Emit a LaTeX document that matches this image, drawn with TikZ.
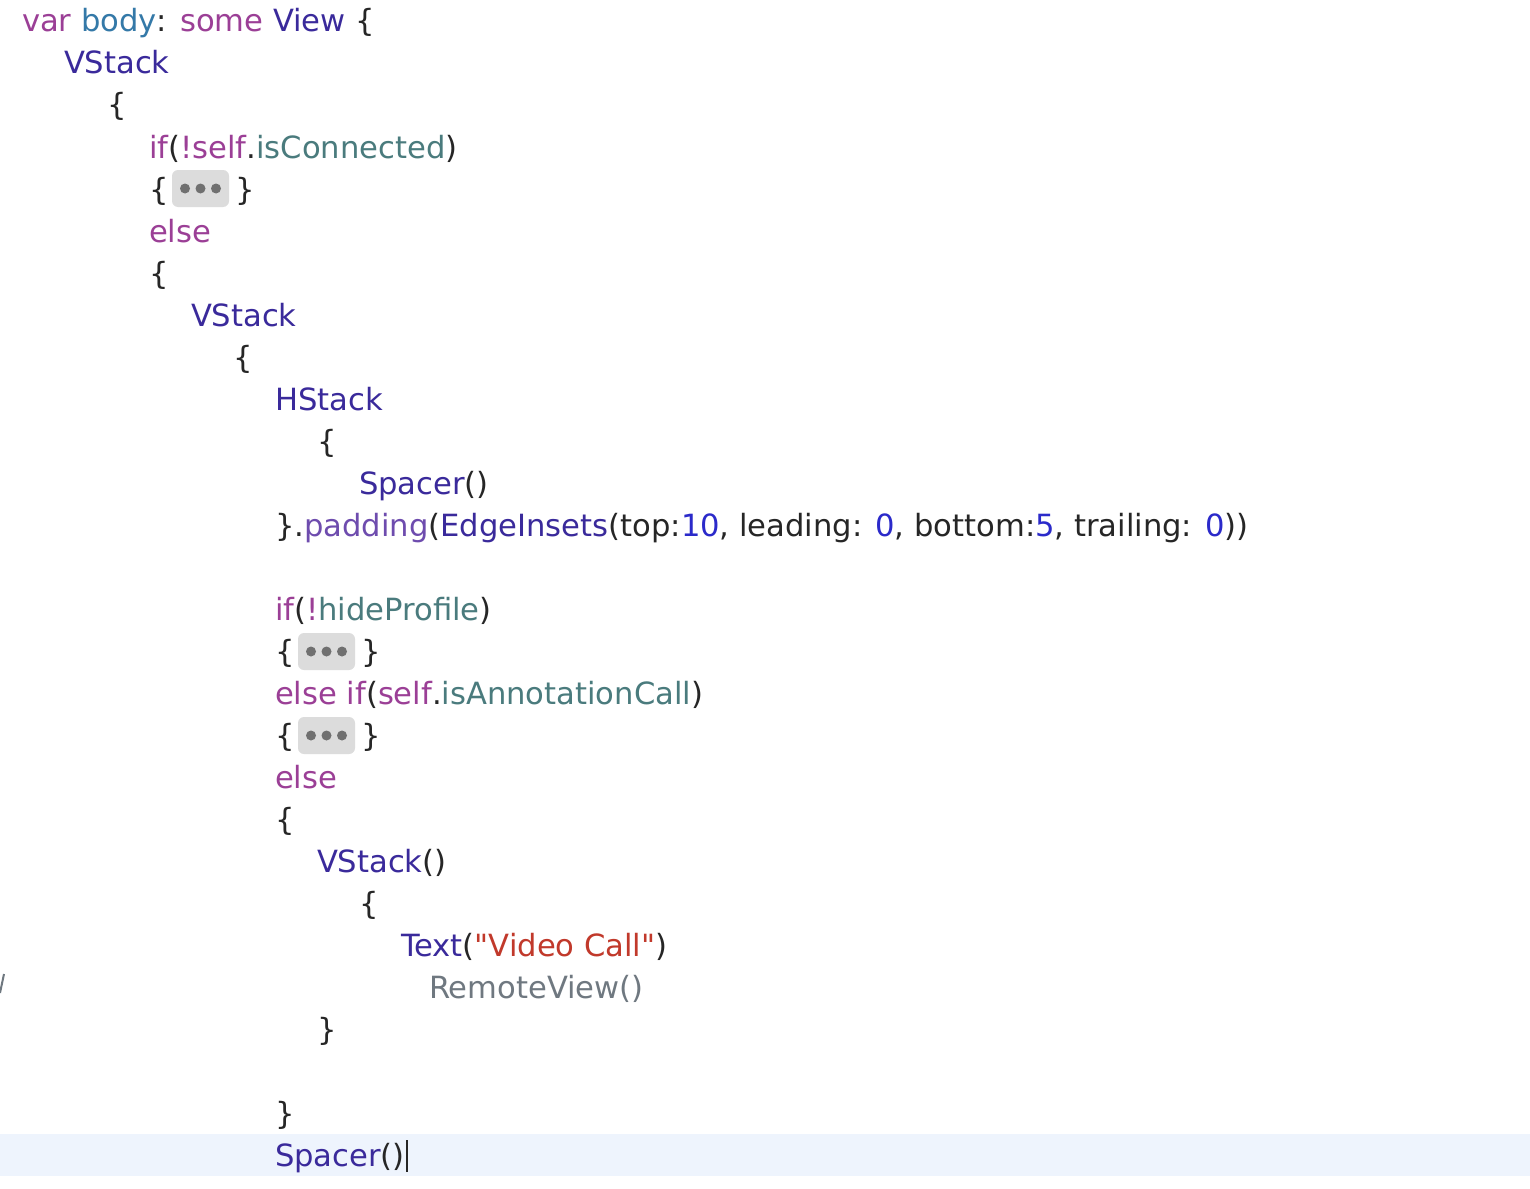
\documentclass[tikz,border=0pt]{standalone}
\usepackage{fontspec}
\newfontfamily\codefont{DejaVu Sans}
\definecolor{kw}{HTML}{9B3F96}
\definecolor{prop}{HTML}{3479A8}
\definecolor{typ}{HTML}{3A2A9B}
\definecolor{mem}{HTML}{4A7B7D}
\definecolor{fn}{HTML}{6E4CAE}
\definecolor{num}{HTML}{2B2ACA}
\definecolor{str}{HTML}{C1392B}
\definecolor{gry}{HTML}{6F7880}
\definecolor{pln}{HTML}{262626}
\definecolor{hl}{HTML}{EEF4FD}
\definecolor{fold}{HTML}{DCDCDC}
\definecolor{folddot}{HTML}{707070}
\newcommand{\cK}[1]{\textcolor{kw}{#1}}
\newcommand{\cP}[1]{\textcolor{prop}{#1}}
\newcommand{\cT}[1]{\textcolor{typ}{#1}}
\newcommand{\cM}[1]{\textcolor{mem}{#1}}
\newcommand{\cF}[1]{\textcolor{fn}{#1}}
\newcommand{\cN}[1]{\textcolor{num}{#1}}
\newcommand{\cS}[1]{\textcolor{str}{#1}}
\tikzset{
  code/.style={anchor=base west, inner sep=0pt, outer sep=0pt, text=pln, font=\codefont\fontsize{30.6}{36}\selectfont},
  foldbox/.style={fill=fold, rounded corners=6pt, draw=none},
  folddot/.style={fill=folddot, draw=none},
}
\begin{document}
\begin{tikzpicture}[x=1pt,y=-1pt]
\useasboundingbox (0,0) rectangle (1530,1188);
\fill[white] (0,0) rectangle (1530,1188);
\fill[hl] (0,1134) rectangle (1530,1176);
% lines
\node[code] (l1) at (22,32) {\cK{var} \cP{body}: \cK{some} \cT{View} \{};
\node[code] (l2) at (64,74) {\cT{VStack}};
\node[code] (l3) at (107,116) {\{};
\node[code] (l4) at (149,158) {\cK{if}(\cK{!self}.\cM{isConnected})};
\node[code] (l5a) at (149,200) {\{};
\node[code] (l5b) at (235,200) {\}};
\node[code] (l6) at (149,242) {\cK{else}};
\node[code] (l7) at (149,284) {\{};
\node[code] (l8) at (191,326) {\cT{VStack}};
\node[code] (l9) at (233,368) {\{};
\node[code] (l10) at (275,410) {\cT{HStack}};
\node[code] (l11) at (317,452) {\{};
\node[code] (l12) at (359,494) {\cT{Spacer}()};
\node[code] (l13) at (275,536) {\}.\cF{padding}(\cT{EdgeInsets}(top:\cN{10}, leading: \cN{0}, bottom:\cN{5}, trailing: \cN{0}))};
\node[code] (l15) at (275,620) {\cK{if}(\cK{!}\cM{hideProfile})};
\node[code] (l16a) at (275,662) {\{};
\node[code] (l16b) at (361,662) {\}};
\node[code] (l17) at (275,704) {\cK{else if}(\cK{self}.\cM{isAnnotationCall})};
\node[code] (l18a) at (275,746) {\{};
\node[code] (l18b) at (361,746) {\}};
\node[code] (l19) at (275,788) {\cK{else}};
\node[code] (l20) at (275,830) {\{};
\node[code] (l21) at (317,872) {\cT{VStack}()};
\node[code] (l22) at (359,914) {\{};
\node[code] (l23) at (401,956) {\cT{Text}(\cS{"Video Call"})};
\node[code,text=gry] (l24) at (429,998) {RemoteView()};
\node[code] (l25) at (317,1040) {\}};
\node[code] (l27) at (275,1124) {\}};
\node[code] (l28) at (275,1166) {\cT{Spacer}()};
% cursor
\draw[pln, line width=2pt] (l28.base east) ++(2,-26) coordinate (c1) -- ++(0,32);
% fold boxes
\foreach \bx/\by in {172/170, 298/633, 298/717}{
  \fill[foldbox] (\bx,\by) rectangle ++(57,37);
  \foreach \dx in {13,28.5,44}{
    \fill[folddot] (\bx+\dx,\by+18.5) circle (5);
  }
}
% cut-off glyph at left edge
\draw[gry, line width=2pt] (4,974) -- (0,993);
\end{tikzpicture}
\end{document}
